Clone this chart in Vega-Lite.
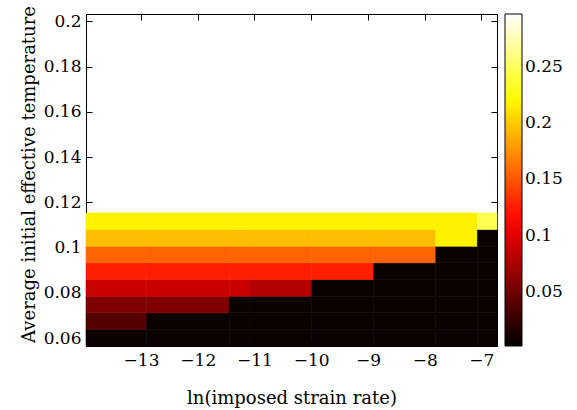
{
  "$schema": "https://vega.github.io/schema/vega-lite/v6.json",
  "width": 411,
  "height": 332,
  "autosize": "none",
  "padding": {"left": 86, "top": 14, "right": 80, "bottom": 64},
  "background": "white",
  "config": {
    "font": "DejaVu Serif",
    "view": {"stroke": "black", "strokeWidth": 1},
    "axis": {
      "labelFont": "DejaVu Serif",
      "labelFontSize": 17,
      "labelColor": "black",
      "titleFont": "DejaVu Serif",
      "titleFontSize": 18,
      "titleFontWeight": "normal",
      "titleColor": "black",
      "domainColor": "black",
      "tickColor": "black",
      "grid": false
    },
    "legend": {
      "labelFont": "DejaVu Serif",
      "labelFontSize": 17,
      "labelColor": "black"
    }
  },
  "data": {
    "values": [
      {"x0": -13.97, "x1": -12.9, "t0": 0.0565, "t1": 0.0639, "v": 0.006},
      {"x0": -12.9, "x1": -11.445, "t0": 0.0565, "t1": 0.0639, "v": 0.006},
      {"x0": -11.445, "x1": -11.08, "t0": 0.0565, "t1": 0.0639, "v": 0.006},
      {"x0": -11.08, "x1": -9.994, "t0": 0.0565, "t1": 0.0639, "v": 0.006},
      {"x0": -9.994, "x1": -8.896, "t0": 0.0565, "t1": 0.0639, "v": 0.006},
      {"x0": -8.896, "x1": -7.804, "t0": 0.0565, "t1": 0.0639, "v": 0.006},
      {"x0": -7.804, "x1": -7.07, "t0": 0.0565, "t1": 0.0639, "v": 0.006},
      {"x0": -7.07, "x1": -6.725, "t0": 0.0565, "t1": 0.0639, "v": 0.006},

      {"x0": -13.97, "x1": -12.9, "t0": 0.0639, "t1": 0.0712, "v": 0.0387},
      {"x0": -12.9, "x1": -11.445, "t0": 0.0639, "t1": 0.0712, "v": 0.006},
      {"x0": -11.445, "x1": -11.08, "t0": 0.0639, "t1": 0.0712, "v": 0.006},
      {"x0": -11.08, "x1": -9.994, "t0": 0.0639, "t1": 0.0712, "v": 0.006},
      {"x0": -9.994, "x1": -8.896, "t0": 0.0639, "t1": 0.0712, "v": 0.006},
      {"x0": -8.896, "x1": -7.804, "t0": 0.0639, "t1": 0.0712, "v": 0.006},
      {"x0": -7.804, "x1": -7.07, "t0": 0.0639, "t1": 0.0712, "v": 0.006},
      {"x0": -7.07, "x1": -6.725, "t0": 0.0639, "t1": 0.0712, "v": 0.006},

      {"x0": -13.97, "x1": -12.9, "t0": 0.0712, "t1": 0.0785, "v": 0.0574},
      {"x0": -12.9, "x1": -11.445, "t0": 0.0712, "t1": 0.0785, "v": 0.0574},
      {"x0": -11.445, "x1": -11.08, "t0": 0.0712, "t1": 0.0785, "v": 0.006},
      {"x0": -11.08, "x1": -9.994, "t0": 0.0712, "t1": 0.0785, "v": 0.006},
      {"x0": -9.994, "x1": -8.896, "t0": 0.0712, "t1": 0.0785, "v": 0.006},
      {"x0": -8.896, "x1": -7.804, "t0": 0.0712, "t1": 0.0785, "v": 0.006},
      {"x0": -7.804, "x1": -7.07, "t0": 0.0712, "t1": 0.0785, "v": 0.006},
      {"x0": -7.07, "x1": -6.725, "t0": 0.0712, "t1": 0.0785, "v": 0.006},

      {"x0": -13.97, "x1": -12.9, "t0": 0.0785, "t1": 0.0859, "v": 0.0886},
      {"x0": -12.9, "x1": -11.445, "t0": 0.0785, "t1": 0.0859, "v": 0.0886},
      {"x0": -11.445, "x1": -11.08, "t0": 0.0785, "t1": 0.0859, "v": 0.0886},
      {"x0": -11.08, "x1": -9.994, "t0": 0.0785, "t1": 0.0859, "v": 0.080},
      {"x0": -9.994, "x1": -8.896, "t0": 0.0785, "t1": 0.0859, "v": 0.006},
      {"x0": -8.896, "x1": -7.804, "t0": 0.0785, "t1": 0.0859, "v": 0.006},
      {"x0": -7.804, "x1": -7.07, "t0": 0.0785, "t1": 0.0859, "v": 0.006},
      {"x0": -7.07, "x1": -6.725, "t0": 0.0785, "t1": 0.0859, "v": 0.006},

      {"x0": -13.97, "x1": -12.9, "t0": 0.0859, "t1": 0.0933, "v": 0.1256},
      {"x0": -12.9, "x1": -11.445, "t0": 0.0859, "t1": 0.0933, "v": 0.1256},
      {"x0": -11.445, "x1": -11.08, "t0": 0.0859, "t1": 0.0933, "v": 0.1256},
      {"x0": -11.08, "x1": -9.994, "t0": 0.0859, "t1": 0.0933, "v": 0.1256},
      {"x0": -9.994, "x1": -8.896, "t0": 0.0859, "t1": 0.0933, "v": 0.1256},
      {"x0": -8.896, "x1": -7.804, "t0": 0.0859, "t1": 0.0933, "v": 0.006},
      {"x0": -7.804, "x1": -7.07, "t0": 0.0859, "t1": 0.0933, "v": 0.006},
      {"x0": -7.07, "x1": -6.725, "t0": 0.0859, "t1": 0.0933, "v": 0.006},

      {"x0": -13.97, "x1": -12.9, "t0": 0.0933, "t1": 0.1006, "v": 0.1559},
      {"x0": -12.9, "x1": -11.445, "t0": 0.0933, "t1": 0.1006, "v": 0.1559},
      {"x0": -11.445, "x1": -11.08, "t0": 0.0933, "t1": 0.1006, "v": 0.1559},
      {"x0": -11.08, "x1": -9.994, "t0": 0.0933, "t1": 0.1006, "v": 0.1559},
      {"x0": -9.994, "x1": -8.896, "t0": 0.0933, "t1": 0.1006, "v": 0.1559},
      {"x0": -8.896, "x1": -7.804, "t0": 0.0933, "t1": 0.1006, "v": 0.1559},
      {"x0": -7.804, "x1": -7.07, "t0": 0.0933, "t1": 0.1006, "v": 0.006},
      {"x0": -7.07, "x1": -6.725, "t0": 0.0933, "t1": 0.1006, "v": 0.006},

      {"x0": -13.97, "x1": -12.9, "t0": 0.1006, "t1": 0.108, "v": 0.1949},
      {"x0": -12.9, "x1": -11.445, "t0": 0.1006, "t1": 0.108, "v": 0.1949},
      {"x0": -11.445, "x1": -11.08, "t0": 0.1006, "t1": 0.108, "v": 0.1949},
      {"x0": -11.08, "x1": -9.994, "t0": 0.1006, "t1": 0.108, "v": 0.1949},
      {"x0": -9.994, "x1": -8.896, "t0": 0.1006, "t1": 0.108, "v": 0.1949},
      {"x0": -8.896, "x1": -7.804, "t0": 0.1006, "t1": 0.108, "v": 0.1949},
      {"x0": -7.804, "x1": -7.07, "t0": 0.1006, "t1": 0.108, "v": 0.2176},
      {"x0": -7.07, "x1": -6.725, "t0": 0.1006, "t1": 0.108, "v": 0.006},

      {"x0": -13.97, "x1": -12.9, "t0": 0.108, "t1": 0.1153, "v": 0.2176},
      {"x0": -12.9, "x1": -11.445, "t0": 0.108, "t1": 0.1153, "v": 0.2176},
      {"x0": -11.445, "x1": -11.08, "t0": 0.108, "t1": 0.1153, "v": 0.2176},
      {"x0": -11.08, "x1": -9.994, "t0": 0.108, "t1": 0.1153, "v": 0.2176},
      {"x0": -9.994, "x1": -8.896, "t0": 0.108, "t1": 0.1153, "v": 0.2176},
      {"x0": -8.896, "x1": -7.804, "t0": 0.108, "t1": 0.1153, "v": 0.2176},
      {"x0": -7.804, "x1": -7.07, "t0": 0.108, "t1": 0.1153, "v": 0.2176},
      {"x0": -7.07, "x1": -6.725, "t0": 0.108, "t1": 0.1153, "v": 0.2464}
    ]
  },
  "layer": [
    {
      "mark": {"type": "rect", "strokeWidth": 0.6},
      "encoding": {
        "x": {
          "field": "x0", "type": "quantitative",
          "scale": {"domain": [-13.97, -6.725], "nice": false, "zero": false},
          "axis": {
            "orient": "bottom",
            "title": "ln(imposed strain rate)",
            "values": [-13, -12, -11, -10, -9, -8, -7],
            "format": "d",
            "tickSize": -6,
            "labelPadding": 12,
            "labelFlush": false,
            "titleY": 57,
            "titleBaseline": "alphabetic"
          }
        },
        "x2": {"field": "x1"},
        "y": {
          "field": "t0", "type": "quantitative",
          "scale": {"domain": [0.0565, 0.2033], "nice": false, "zero": false},
          "axis": {
            "orient": "left",
            "title": "Average initial effective temperature",
            "values": [0.06, 0.08, 0.1, 0.12, 0.14, 0.16, 0.18, 0.2],
            "format": "~g",
            "tickSize": -6,
            "labelPadding": 11,
            "labelFlush": false,
            "titleX": -52,
            "titleY": 160,
            "titleAngle": -90,
            "titleAlign": "center",
            "titleBaseline": "alphabetic"
          }
        },
        "y2": {"field": "t1"},
        "color": {
          "field": "v", "type": "quantitative",
          "scale": {
            "type": "linear",
            "domain": [0.0018, 0.1125, 0.2231, 0.297],
            "range": ["#000000", "#ff0000", "#ffff00", "#ffffff"],
            "interpolate": "rgb"
          },
          "legend": {
            "orient": "right",
            "offset": 7,
            "title": null,
            "direction": "vertical",
            "gradientLength": 332,
            "gradientThickness": 17,
            "gradientStrokeColor": "black",
            "gradientStrokeWidth": 1,
            "values": [0.05, 0.1, 0.15, 0.2, 0.25],
            "format": "~g",
            "labelOffset": 3,
            "labelOverlap": false
          }
        },
        "stroke": {
          "field": "v", "type": "quantitative",
          "scale": {
            "type": "linear",
            "domain": [0.0018, 0.1125, 0.2231, 0.297],
            "range": ["#000000", "#ff0000", "#ffff00", "#ffffff"],
            "interpolate": "rgb"
          },
          "legend": null
        }
      }
    },
    {
      "mark": {"type": "rect", "opacity": 0},
      "encoding": {
        "x": {
          "field": "x0", "type": "quantitative",
          "scale": {"domain": [-13.97, -6.725], "nice": false, "zero": false},
          "axis": {
            "orient": "top",
            "title": null,
            "values": [-13, -12, -11, -10, -9, -8, -7],
            "labels": false,
            "domain": false,
            "tickSize": -6
          }
        },
        "x2": {"field": "x1"},
        "y": {
          "field": "t0", "type": "quantitative",
          "scale": {"domain": [0.0565, 0.2033], "nice": false, "zero": false},
          "axis": {
            "orient": "right",
            "title": null,
            "values": [0.06, 0.08, 0.1, 0.12, 0.14, 0.16, 0.18, 0.2],
            "labels": false,
            "domain": false,
            "tickSize": -6
          }
        },
        "y2": {"field": "t1"}
      }
    }
  ],
  "resolve": {"axis": {"x": "independent", "y": "independent"}, "scale": {"stroke": "independent"}}
}
